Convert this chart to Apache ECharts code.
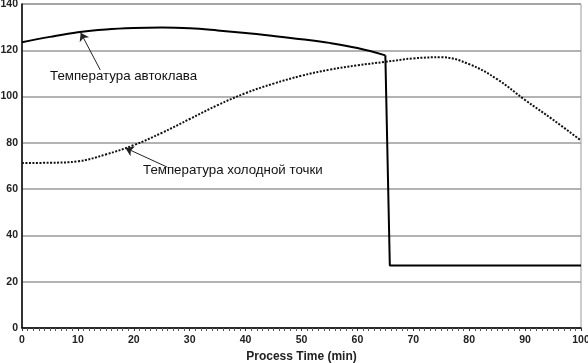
<!DOCTYPE html>
<html>
<head>
<meta charset="utf-8">
<script src="https://cdn.jsdelivr.net/npm/echarts@6/dist/echarts.min.js"></script>
<style>
  html, body { margin: 0; padding: 0; background: #fff; }
  #chart { width: 588px; height: 363px; }
</style>
</head>
<body>
<div id="chart"></div>
<script>
// данные
var yTicks = [0, 20, 40, 60, 80, 100, 120, 140];
var xTicks = [0, 10, 20, 30, 40, 50, 60, 70, 80, 90, 100];

// температура автоклава (плавная часть)
var autoTime = [0, 5, 10, 15, 20, 25, 30, 35, 40, 45, 50, 55, 60, 65];
var autoTemp = [123.5, 125.8, 127.8, 129.0, 129.6, 129.8, 129.5, 128.6, 127.5, 126.2, 124.8, 123.2, 121.0, 117.8];
// сброс и полка
var dropTime = [65, 65.8, 100];
var dropTemp = [117.8, 27, 27];

// температура холодной точки
var coldTime = [0, 5, 10, 15, 20, 25, 30, 35, 40, 45, 50, 55, 60, 65, 70, 75, 80, 85, 90, 95, 100];
var coldTemp = [71.3, 71.4, 72.0, 75.0, 79.0, 84.3, 90.3, 96.3, 101.5, 105.6, 109.0, 111.6, 113.5, 115.0, 116.5, 117.0, 114.0, 107.5, 98.5, 90.0, 81.0];

function pairs(xs, ys) {
    var out = [];
    for (var i = 0; i < xs.length; i++) out.push([xs[i], ys[i]]);
    return out;
}

var myChart = echarts.init(document.getElementById('chart'));

var tickFont = "'Liberation Sans Narrow', 'Liberation Sans', sans-serif";

var option = {
    animation: false,
    grid: {
        left: 22,
        right: 7,
        top: 4,
        bottom: 35,
        outerBoundsMode: 'none',
        containLabel: false,
        show: true,
        borderColor: '#9a9a9a',
        borderWidth: 1
    },
    xAxis: {
        type: 'value',
        min: xTicks[0],
        max: xTicks[xTicks.length - 1],
        interval: 10,
        name: 'Process Time (min)',
        nameLocation: 'middle',
        nameGap: 20,
        nameTextStyle: { color: '#222', fontSize: 12, fontWeight: 'bold', fontFamily: 'Liberation Sans' },
        axisLine: { lineStyle: { color: '#000', width: 1.5 } },
        axisTick: { show: true, length: 3, lineStyle: { color: '#333' } },
        minorTick: { show: true, splitNumber: 10, length: 3, lineStyle: { color: '#555' } },
        axisLabel: { color: '#222', fontSize: 10.5, fontWeight: 'bold', fontFamily: tickFont, margin: 7 },
        splitLine: { show: false }
    },
    yAxis: {
        type: 'value',
        min: yTicks[0],
        max: yTicks[yTicks.length - 1],
        interval: 20,
        axisLine: { show: true, lineStyle: { color: '#000', width: 1.5 } },
        axisTick: { show: false },
        axisLabel: { color: '#222', fontSize: 10.5, fontWeight: 'bold', fontFamily: tickFont, margin: 4 },
        splitLine: { lineStyle: { color: '#9a9a9a', width: 1.5 } }
    },
    series: [
        {
            name: 'Температура автоклава',
            type: 'line',
            data: pairs(autoTime, autoTemp),
            smooth: 0.4,
            showSymbol: false,
            lineStyle: { color: '#000', width: 2 },
            markLine: {
                silent: true,
                symbol: ['none', 'arrow'],
                symbolSize: 8,
                label: { show: false },
                lineStyle: { color: '#222', width: 1, type: 'solid' },
                data: [[{ coord: [14.0, 111.5] }, { coord: [10.5, 127.6] }]]
            }
        },
        {
            name: 'сброс',
            type: 'line',
            data: pairs(dropTime, dropTemp),
            showSymbol: false,
            lineStyle: { color: '#000', width: 2 }
        },
        {
            name: 'Температура холодной точки',
            type: 'line',
            data: pairs(coldTime, coldTemp),
            smooth: 0.4,
            showSymbol: false,
            lineStyle: { color: '#111', width: 2, type: [2, 1.5] },
            markLine: {
                silent: true,
                symbol: ['none', 'arrow'],
                symbolSize: 8,
                label: { show: false },
                lineStyle: { color: '#222', width: 1, type: 'solid' },
                data: [[{ coord: [26.0, 69.5] }, { coord: [18.5, 77.8] }]]
            }
        }
    ],
    graphic: [
        {
            type: 'text', left: 50, top: 70,
            style: { text: 'Температура автоклава', fill: '#111', fontSize: 13.3, fontFamily: 'Liberation Sans' }
        },
        {
            type: 'text', left: 143, top: 164,
            style: { text: 'Температура холодной точки', fill: '#111', fontSize: 13.3, fontFamily: 'Liberation Sans' }
        }
    ]
};

myChart.setOption(option);
window.addEventListener("resize", function () {
    myChart.resize();
});
</script>
</body>
</html>
